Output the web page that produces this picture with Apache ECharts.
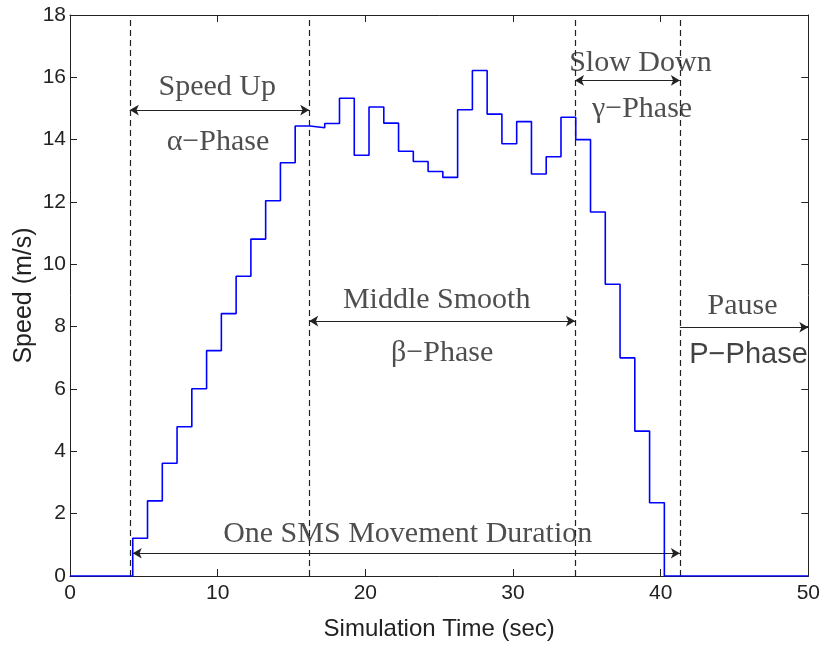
<!DOCTYPE html>
<html>
<head>
<meta charset="utf-8">
<script src="https://cdn.jsdelivr.net/npm/echarts@6/dist/echarts.min.js"></script>
<style>
html,body{margin:0;padding:0;background:#fff;}
#chart{width:823px;height:646px;}
</style>
</head>
<body>
<div id="chart"></div>
<script>
// ---- Data ----
var stepTimes = [0, 4.25, 5.25, 6.25, 7.25, 8.25, 9.25, 10.25, 11.25, 12.25, 13.25, 14.25, 15.25,
  16.25, 17.25, 18.25, 19.25, 20.25, 21.25, 22.25, 23.25, 24.25, 25.25, 26.25, 27.25, 28.25,
  29.25, 30.25, 31.25, 32.25, 33.25, 34.25, 35.25, 36.25, 37.25, 38.25, 39.25, 40.25, 50];
var speeds = [0, 1.21, 2.41, 3.62, 4.79, 6.01, 7.23, 8.42, 9.62, 10.81, 12.04, 13.26, 14.44,
  14.38, 14.52, 15.33, 13.5, 15.05, 14.53, 13.63, 13.30, 12.98, 12.79, 14.96, 16.22, 14.82,
  13.87, 14.58, 12.9, 13.45, 14.72, 14.0, 11.68, 9.36, 7.0, 4.65, 2.35, 0, 0];
var phaseBoundaries = [4.05, 16.2, 34.2, 41.3];
var xTicks = [0, 10, 20, 30, 40, 50];
var yTicks = [0, 2, 4, 6, 8, 10, 12, 14, 16, 18];
// arrows
var arrowStarts = [4.05, 16.2, 34.2, 41.3, 4.25];
var arrowEnds   = [16.2, 34.2, 41.3, 50, 41.3];
var arrowLevels = [14.95, 8.18, 15.9, 7.98, 0.73];
var arrowDouble = [true, true, true, false, true];
// annotation texts
var noteTexts = ['Speed Up', '\u03b1\u2212Phase', 'Middle Smooth', '\u03b2\u2212Phase', 'Slow Down',
  '\u03b3\u2212Phase', 'Pause', 'P\u2212Phase', 'One SMS Movement Duration'];
var noteX = [9.97, 10.02, 24.83, 25.2, 38.63, 38.74, 45.54, 45.95, 22.87];
var noteY = [15.69, 13.91, 8.85, 7.15, 16.46, 14.98, 8.65, 7.09, 1.35];

// ---- Build ----
var lineData = stepTimes.map(function (t, i) { return [t, speeds[i]]; });
var serif = '"Liberation Serif", "Times New Roman", serif';
var sans = '"Liberation Sans", Arial, sans-serif';
var axisCol = '#222';

var dashedLines = phaseBoundaries.map(function (x) {
  return [{ coord: [x, 0] }, { coord: [x, 18] }];
});
var arrowLines = arrowStarts.map(function (x1, i) {
  return [
    { coord: [x1, arrowLevels[i]], symbol: arrowDouble[i] ? 'arrow' : 'none' },
    { coord: [arrowEnds[i], arrowLevels[i]], symbol: 'arrow' }
  ];
});
var noteData = noteTexts.map(function (t, i) {
  var item = { value: [noteX[i], noteY[i]], name: t };
  if (t === 'P\u2212Phase') {
    item.label = { fontFamily: sans, fontSize: 29, color: '#111' };
  }
  return item;
});

var chart = echarts.init(document.getElementById('chart'), null, { renderer: 'canvas' });
var axisCommon = {
  type: 'value',
  axisLine: { show: true, onZero: false, lineStyle: { color: axisCol, width: 1 } },
  axisTick: { show: true, inside: true, length: 7, lineStyle: { color: axisCol } },
  splitLine: { show: false }
};
chart.setOption({
  animation: false,
  backgroundColor: '#fff',
  grid: { left: 70, right: 13, top: 15, bottom: 70, show: false },
  xAxis: [
    Object.assign({}, axisCommon, {
      min: 0, max: 50, interval: 10, position: 'bottom',
      name: 'Simulation Time (sec)', nameLocation: 'middle', nameGap: 41,
      nameMoveOverlap: false,
      nameTextStyle: { fontFamily: sans, fontSize: 24, color: axisCol },
      axisLabel: { fontFamily: sans, fontSize: 21, color: axisCol, margin: 7 }
    }),
    Object.assign({}, axisCommon, {
      min: 0, max: 50, interval: 10, position: 'top', axisLabel: { show: false }
    })
  ],
  yAxis: [
    Object.assign({}, axisCommon, {
      min: 0, max: 18, interval: 2, position: 'left',
      name: 'Speed (m/s)', nameLocation: 'middle', nameGap: 33,
      nameMoveOverlap: false,
      nameTextStyle: { fontFamily: sans, fontSize: 25, color: axisCol },
      axisLabel: { fontFamily: sans, fontSize: 21, color: axisCol, margin: 4 }
    }),
    Object.assign({}, axisCommon, {
      min: 0, max: 18, interval: 2, position: 'right', axisLabel: { show: false }
    })
  ],
  series: [
    {
      type: 'line', step: 'end', data: lineData, symbol: 'none',
      lineStyle: { color: '#0000ff', width: 1.6 }, z: 5,
      markLine: {
        silent: true, symbol: ['none', 'none'],
        lineStyle: { color: '#222', type: [6, 4], width: 1.2 },
        label: { show: false },
        data: dashedLines
      }
    },
    {
      type: 'line', data: [], symbol: 'none',
      markLine: {
        silent: true, symbolSize: [8, 9],
        lineStyle: { color: '#222', type: 'solid', width: 1.2 },
        label: { show: false },
        data: arrowLines
      }
    },
    {
      type: 'scatter', data: noteData, symbolSize: 0, silent: true, z: 10,
      label: {
        show: true, position: 'inside', formatter: '{b}',
        fontFamily: serif, fontSize: 30, color: '#222'
      }
    }
  ]
});
</script>
</body>
</html>
